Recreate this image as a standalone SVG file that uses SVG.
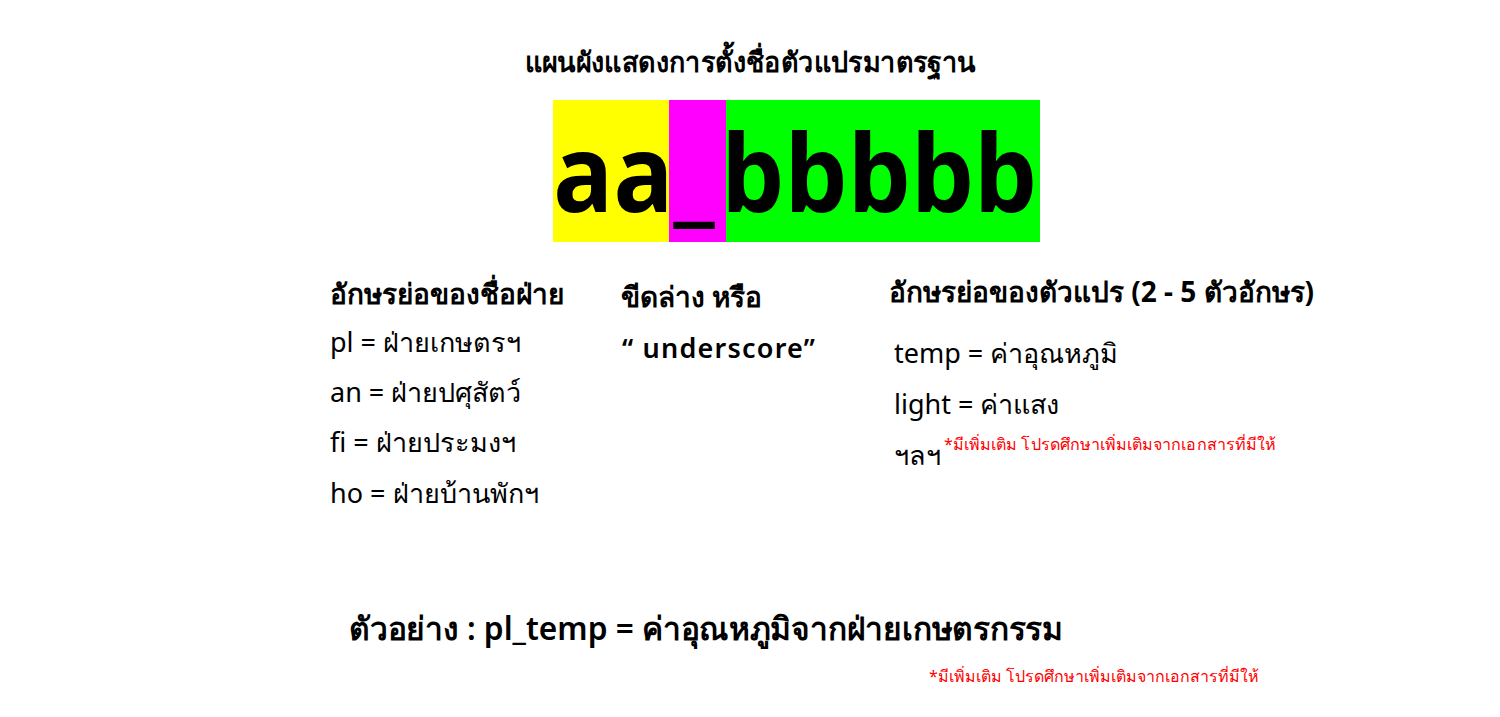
<svg xmlns="http://www.w3.org/2000/svg" width="1500" height="717" viewBox="0 0 1500 717">
<style>
text{font-family:"Noto Sans","DejaVu Sans",sans-serif;fill:#000}
.h{font-weight:bold;font-size:28px}
.i{font-size:27px}
.r{fill:#ff0000;font-size:16px}
.big{font-family:"Open Sans","Liberation Sans",sans-serif;font-weight:bold;font-size:108px}
</style>
<rect width="1500" height="717" fill="#fff"/>
<g id="title"><text x="750" y="72" text-anchor="middle" textLength="451" lengthAdjust="spacingAndGlyphs" style="font-weight:bold;font-size:28px">แผนผังแสดงการตั้งชื่อตัวแปรมาตรฐาน</text></g>
<g id="pattern">
<rect x="553" y="100" width="116" height="142" fill="#ffff00"/>
<rect x="669" y="100" width="57" height="142" fill="#ff00ff"/>
<rect x="726" y="100" width="314" height="142" fill="#00ff00"/>
<text class="big" x="553" y="212" textLength="484" lengthAdjust="spacingAndGlyphs">aa_<tspan dx="7">bbbbb</tspan></text>
</g>
<g id="dept">
<text class="h" x="330" y="304">อักษรย่อของชื่อฝ่าย</text>
<text class="i" x="330" y="352">pl = ฝ่ายเกษตรฯ</text>
<text class="i" x="330" y="402">an = ฝ่ายปศุสัตว์</text>
<text class="i" x="330" y="452">fi = ฝ่ายประมงฯ</text>
<text class="i" x="330" y="503">ho = ฝ่ายบ้านพักฯ</text>
</g>
<g id="underscore">
<text class="h" x="621" y="307">ขีดล่าง หรือ</text>
<text class="i" x="622" y="358" textLength="193" lengthAdjust="spacing" style="font-weight:600">“ underscore”</text>
</g>
<g id="var">
<text class="h" x="889" y="302">อักษรย่อของตัวแปร (2 - 5 ตัวอักษร)</text>
<text class="i" x="894" y="363">temp = ค่าอุณหภูมิ</text>
<text class="i" x="894" y="414">light = ค่าแสง</text>
<text class="i" x="894" y="465">ฯลฯ</text>
<text class="r" x="944" y="450" textLength="332" lengthAdjust="spacingAndGlyphs">*มีเพิ่มเติม โปรดศึกษาเพิ่มเติมจากเอกสารที่มีให้</text>
</g>
<g id="example">
<text x="349" y="640" textLength="714" lengthAdjust="spacingAndGlyphs" style="font-size:32px;font-weight:600">ตัวอย่าง : pl_temp = ค่าอุณหภูมิจากฝ่ายเกษตรกรรม</text>
<text class="r" x="929" y="682" textLength="330" lengthAdjust="spacingAndGlyphs">*มีเพิ่มเติม โปรดศึกษาเพิ่มเติมจากเอกสารที่มีให้</text>
</g>
</svg>
